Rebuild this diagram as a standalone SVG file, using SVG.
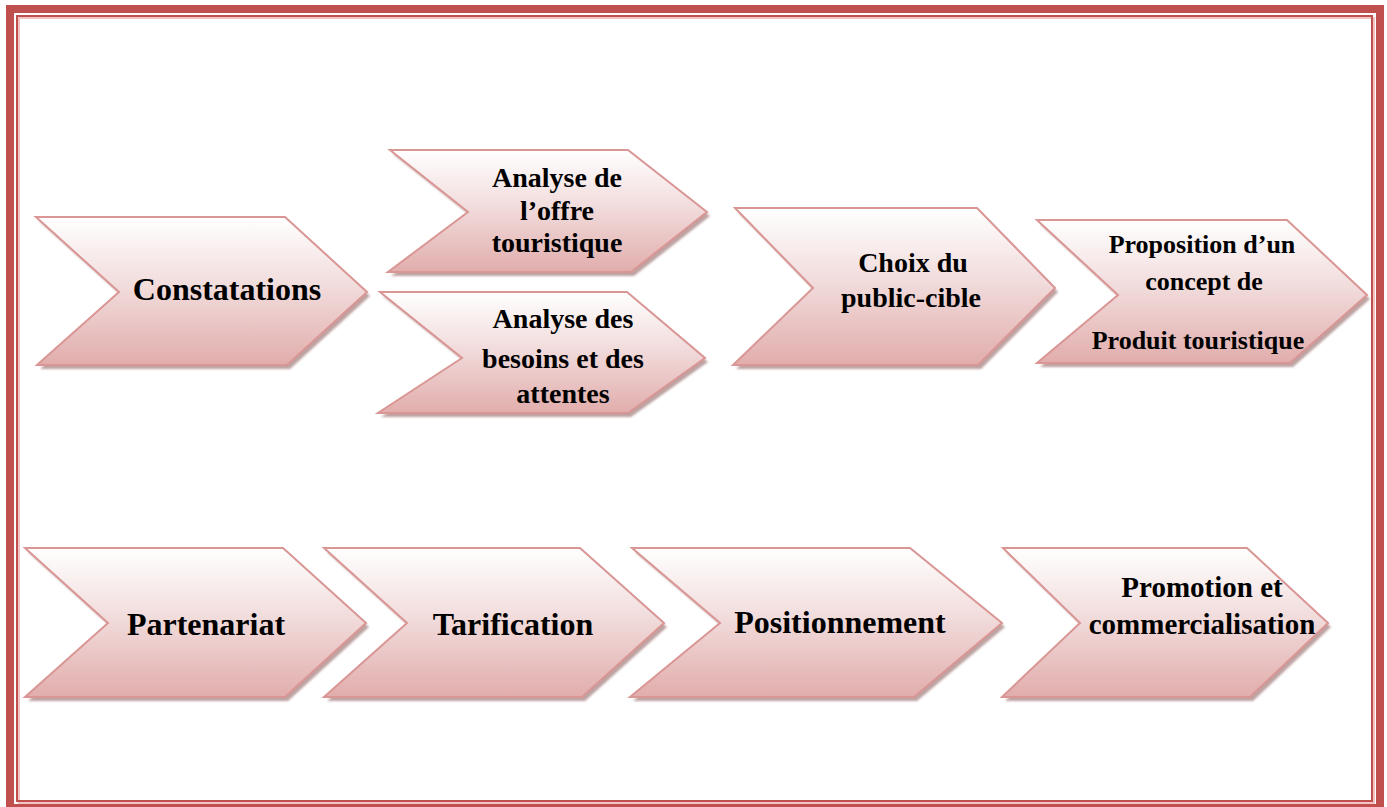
<svg xmlns="http://www.w3.org/2000/svg" width="1387" height="807" viewBox="0 0 1387 807">
<style>
.shape{fill:url(#pinkGrad);stroke:#d99694;stroke-width:2;stroke-linejoin:miter}
.shadow{fill:#a98383;opacity:0.75;filter:url(#blur)}
.lbl{font-family:"Liberation Serif","Times New Roman",serif;font-weight:bold;fill:#000;text-anchor:middle}
.big{font-size:32px}
.mid{font-size:28px}
.sm{font-size:26px}
</style>
<defs>
<linearGradient id="pinkGrad" x1="0" y1="0" x2="0" y2="1">
<stop offset="0" stop-color="#ffffff"/>
<stop offset="0.45" stop-color="#f2dddd"/>
<stop offset="1" stop-color="#e1adac"/>
</linearGradient>
<filter id="blur" x="-5%" y="-5%" width="110%" height="110%"><feGaussianBlur stdDeviation="0.8"/></filter>
</defs>
<rect width="1387" height="807" fill="#ffffff"/>
<g id="border" fill="none">
<rect x="10" y="9" width="1370" height="799" stroke="#c0504d" stroke-width="8"/>
<rect x="19" y="18" width="1355" height="785" stroke="#f2c4c3" stroke-width="2"/>
<rect x="17" y="16" width="1355" height="785" stroke="#c0504d" stroke-width="2"/>
</g>
<g id="connectors"></g>
<g id="n-constatations">
<polygon class="shadow" transform="translate(3,4)" points="36,217 285,217 367,292 287,365 37,365 119,292"/>
<polygon class="shape" points="36,217 285,217 367,292 287,365 37,365 119,292"/>
<text class="lbl big" x="227" y="300">Constatations</text>
</g>
<g id="n-offre">
<polygon class="shadow" transform="translate(3,4)" points="390,150 628,150 707,212 631,272 388,272 468,212"/>
<polygon class="shape" points="390,150 628,150 707,212 631,272 388,272 468,212"/>
<text class="lbl mid" x="557" y="187">Analyse de</text>
<text class="lbl mid" x="557" y="220">l’offre</text>
<text class="lbl mid" x="557" y="252">touristique</text>
</g>
<g id="n-besoins">
<polygon class="shadow" transform="translate(3,4)" points="380,292 627,292 705,358 628,413 378,413 462,358"/>
<polygon class="shape" points="380,292 627,292 705,358 628,413 378,413 462,358"/>
<text class="lbl mid" x="563" y="328">Analyse des</text>
<text class="lbl mid" x="563" y="368">besoins et des</text>
<text class="lbl mid" x="563" y="403">attentes</text>
</g>
<g id="n-choix">
<polygon class="shadow" transform="translate(3,4)" points="735,208 977,208 1055,288 978,365 733,365 813,288"/>
<polygon class="shape" points="735,208 977,208 1055,288 978,365 733,365 813,288"/>
<text class="lbl mid" x="913" y="272">Choix du</text>
<text class="lbl mid" x="911" y="307">public-cible</text>
</g>
<g id="n-proposition">
<polygon class="shadow" transform="translate(3,4)" points="1037,220 1287,220 1367,295 1290,363 1037,363 1118,295"/>
<polygon class="shape" points="1037,220 1287,220 1367,295 1290,363 1037,363 1118,295"/>
<text class="lbl sm" x="1202" y="253">Proposition d’un</text>
<text class="lbl sm" x="1204" y="290">concept de</text>
<text class="lbl sm" x="1198" y="349">Produit touristique</text>
</g>
<g id="n-partenariat">
<polygon class="shadow" transform="translate(3,4)" points="25,548 283,548 366,623 285,697 25,697 108,623"/>
<polygon class="shape" points="25,548 283,548 366,623 285,697 25,697 108,623"/>
<text class="lbl big" x="206" y="635">Partenariat</text>
</g>
<g id="n-tarification">
<polygon class="shadow" transform="translate(3,4)" points="324,548 580,548 664,623 582,697 324,697 407,623"/>
<polygon class="shape" points="324,548 580,548 664,623 582,697 324,697 407,623"/>
<text class="lbl big" x="513" y="635">Tarification</text>
</g>
<g id="n-positionnement">
<polygon class="shadow" transform="translate(3,4)" points="632,548 910,548 1002,623 914,697 630,697 720,623"/>
<polygon class="shape" points="632,548 910,548 1002,623 914,697 630,697 720,623"/>
<text class="lbl big" x="840" y="633">Positionnement</text>
</g>
<g id="n-promotion">
<polygon class="shadow" transform="translate(3,4)" points="1003,548 1247,548 1328,623 1250,697 1002,697 1080,623"/>
<polygon class="shape" points="1003,548 1247,548 1328,623 1250,697 1002,697 1080,623"/>
<text class="lbl" style="font-size:29px" x="1202" y="597">Promotion et</text>
<text class="lbl" style="font-size:29px" x="1202" y="634">commercialisation</text>
</g>
</svg>
